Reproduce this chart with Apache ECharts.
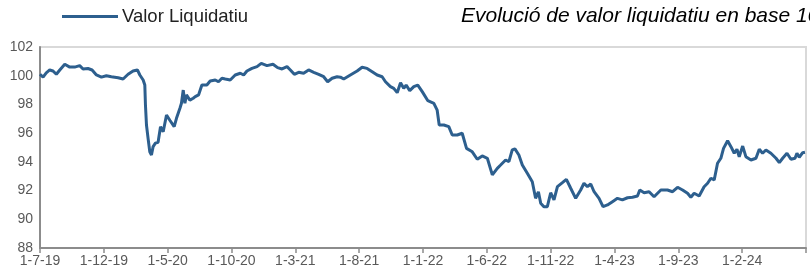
<!DOCTYPE html>
<html>
<head>
<meta charset="utf-8">
<script src="https://cdn.jsdelivr.net/npm/echarts@6/dist/echarts.min.js"></script>
<style>
  html, body { margin: 0; padding: 0; background: #fff; }
  #chart { width: 810px; height: 273px; }
</style>
</head>
<body>
<div id="chart"></div>
<script>
// months since 1-7-19
var months = [0, 0.24, 0.49, 0.76, 1.02, 1.28, 1.55, 1.94, 2.33, 2.72, 3.11, 3.37, 3.76, 4.08, 4.42, 4.81,
  5.2, 5.59, 6.12, 6.51, 6.9, 7.29, 7.63, 7.82, 8.08, 8.21, 8.26, 8.34, 8.47, 8.6, 8.73, 8.86,
  9.04, 9.25, 9.44, 9.65, 9.91, 10.17, 10.51, 10.69, 10.96, 11.08, 11.22, 11.35, 11.47, 11.74, 12.0,
  12.16, 12.42, 12.68, 13.07, 13.33, 13.73, 13.98, 14.25, 14.51, 14.9, 15.29, 15.69, 15.95, 16.21,
  16.6, 17.0, 17.33, 17.78, 18.25, 18.61, 18.96, 19.35, 19.61, 19.92, 20.26, 20.65, 21.04, 21.44,
  21.83, 22.22, 22.53, 22.88, 23.27, 23.53, 23.79, 24.31, 24.84, 25.23, 25.62, 26.02, 26.41, 26.8,
  27.06, 27.45, 27.71, 27.98, 28.24, 28.49, 28.68, 28.96, 29.28, 29.59, 29.94, 30.38, 30.85, 31.11,
  31.27, 31.63, 32.02, 32.29, 32.68, 33.07, 33.41, 33.86, 34.25, 34.64, 35.04, 35.43, 35.82, 36.08,
  36.47, 36.73, 36.99, 37.2, 37.51, 37.78, 38.17, 38.56, 38.82, 39.04, 39.22, 39.47, 39.74, 40.0,
  40.26, 40.53, 40.92, 41.23, 41.57, 41.96, 42.35, 42.61, 42.88, 43.14, 43.4, 43.79, 44.1, 44.45,
  44.84, 45.23, 45.62, 46.02, 46.41, 46.8, 46.98, 47.32, 47.71, 47.84, 48.1, 48.24, 48.63, 49.15,
  49.55, 49.94, 50.33, 50.72, 50.98, 51.24, 51.63, 52.02, 52.29, 52.55, 52.81, 53.07, 53.33, 53.54,
  53.86, 54.12, 54.38, 54.59, 54.77, 55.04, 55.29, 55.69, 56.08, 56.34, 56.6, 56.86, 57.25, 57.65,
  57.91, 58.17, 58.51, 58.82, 59.14, 59.29, 59.47, 59.74, 59.92];

var valorLiquidatiu = [100.1, 99.9, 100.2, 100.4, 100.33, 100.1, 100.4, 100.8, 100.6, 100.6, 100.7, 100.47, 100.5, 100.4, 100.05, 99.9,
  100.0, 99.93, 99.86, 99.77, 100.1, 100.33, 100.4, 100.05, 99.7, 99.35, 97.96, 96.57, 95.6, 94.7, 94.48, 95.06,
  95.3, 95.36, 96.45, 96.1, 97.26, 96.9, 96.45, 97.03, 97.73, 98.08, 99.0, 98.08, 98.66, 98.3, 98.43,
  98.54, 98.66, 99.35, 99.35, 99.63, 99.7, 99.58, 99.82, 99.77, 99.7, 100.05, 100.17, 100.05, 100.33,
  100.51, 100.63, 100.86, 100.7, 100.8, 100.56, 100.47, 100.63, 100.4, 100.1, 100.24, 100.17, 100.4, 100.24,
  100.1, 99.93, 99.58, 99.82, 99.93, 99.9, 99.77, 100.05, 100.33, 100.59, 100.51, 100.28, 100.05, 99.93,
  99.58, 99.24, 99.12, 98.82, 99.51, 99.12, 99.35, 98.96, 99.24, 99.35, 98.89, 98.26, 98.08, 97.6,
  96.57, 96.57, 96.45, 95.87, 95.87, 95.99, 94.94, 94.7, 94.18, 94.41, 94.25, 93.09, 93.55, 93.78,
  94.13, 94.01, 94.83, 94.9, 94.48, 93.78, 93.2, 92.62, 91.46, 91.92, 91.12, 90.88, 90.88, 91.85,
  91.35, 92.27, 92.55, 92.78, 92.16, 91.46, 92.04, 92.51, 92.27, 92.46, 91.92, 91.46, 90.88, 91.0,
  91.23, 91.46, 91.35, 91.5, 91.53, 91.62, 92.04, 91.85, 91.92, 92.04, 91.57, 91.46, 92.04, 92.04,
  91.92, 92.23, 92.04, 91.81, 91.53, 91.81, 91.62, 92.27, 92.51, 92.86, 92.74, 93.9, 94.25, 94.94,
  95.47, 95.06, 94.6, 94.88, 94.36, 95.1, 94.36, 94.13, 94.25, 94.88, 94.6, 94.83, 94.6, 94.25,
  93.94, 94.25, 94.6, 94.18, 94.25, 94.6, 94.32, 94.64, 94.67];

var tickLabels = ['1-7-19', '1-12-19', '1-5-20', '1-10-20', '1-3-21', '1-8-21', '1-1-22',
  '1-6-22', '1-11-22', '1-4-23', '1-9-23', '1-2-24'];

var chart = echarts.init(document.getElementById('chart'));

var points = [];
for (var i = 0; i < months.length; i++) {
    points.push([months[i], valorLiquidatiu[i]]);
}

var option = {
    animation: false,
    textStyle: { fontFamily: 'Liberation Sans, Arial, sans-serif' },
    title: {
        text: 'Evolució de valor liquidatiu en base 100',
        left: 461,
        top: 6,
        padding: 0,
        textStyle: { fontSize: 21, fontStyle: 'italic', fontWeight: 'normal', color: '#000' }
    },
    legend: {
        left: 62,
        top: 7,
        padding: 0,
        icon: 'rect',
        itemWidth: 56,
        itemHeight: 3,
        itemGap: 4,
        textStyle: { fontSize: 18.5, color: '#222', padding: [0, 0, 0, -1] },
        data: ['Valor Liquidatiu']
    },
    grid: {
        left: 40,
        right: 4,
        top: 47,
        bottom: 25,
        show: true,
        borderColor: '#d9d9d9',
        borderWidth: 2
    },
    xAxis: {
        type: 'value',
        min: 0,
        max: 60,
        interval: 5,
        splitLine: { show: false },
        axisLine: { lineStyle: { color: '#8c8c8c', width: 2 } },
        axisTick: { show: true, length: 5, lineStyle: { color: '#8c8c8c', width: 1.5 } },
        axisLabel: {
            color: '#595959',
            fontSize: 14,
            margin: 6,
            formatter: function (v) {
                return tickLabels[Math.round(v / 5)] || '';
            }
        }
    },
    yAxis: {
        type: 'value',
        min: 88,
        max: 102,
        interval: 2,
        splitLine: { show: false },
        axisLine: { show: true, lineStyle: { color: '#8c8c8c', width: 2 } },
        axisTick: { show: false },
        axisLabel: { color: '#595959', fontSize: 14, margin: 7 }
    },
    series: [
        {
            name: 'Valor Liquidatiu',
            type: 'line',
            data: points,
            showSymbol: false,
            symbol: 'none',
            itemStyle: { color: '#2d5f8e' },
            lineStyle: { color: '#2d5f8e', width: 3 }
        }
    ]
};

chart.setOption(option);
</script>
</body>
</html>
